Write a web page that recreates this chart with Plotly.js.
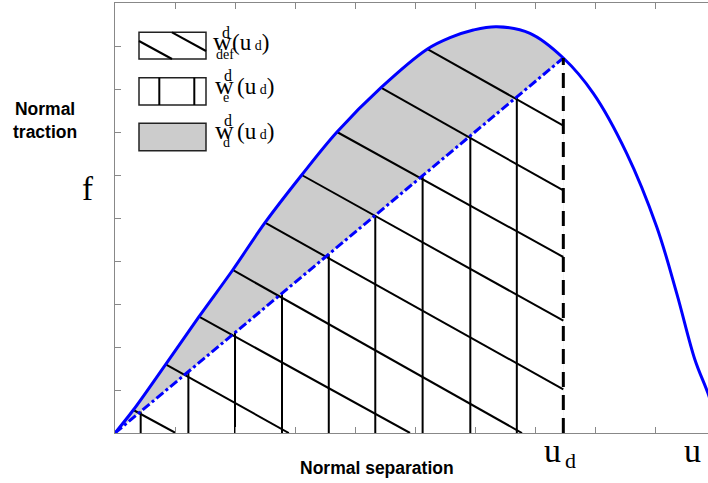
<!DOCTYPE html>
<html>
<head>
<meta charset="utf-8">
<script src="https://cdn.plot.ly/plotly-3.0.1.min.js"></script>
<style>
  body { margin: 0; background: #fff; }
  #chart { width: 708px; height: 483px; }
</style>
</head>
<body>
<div id="chart"></div>
<script>
// Traction-separation curve
const curveU = [0, 0.305, 0.845, 1.400, 1.962, 2.500, 3.112, 3.700, 4.433, 5.208, 5.583, 5.972, 6.362, 6.917, 7.472, 7.972, 8.528, 9.028, 9.362, 9.667, 9.883, 10.1];
const curveF = [0, 0.535, 1.598, 2.705, 3.791, 4.891, 6.000, 7.000, 8.030, 8.930, 9.193, 9.372, 9.449, 9.295, 8.721, 7.900, 6.505, 4.798, 3.249, 1.698, 0.923, 0];

// damage point
const ud = 7.472;
const fd = 8.721;

// vertical hatching (elastic energy)
const elasticU = [0.428, 1.223, 2.000, 2.783, 3.563, 4.338, 5.127, 5.922, 6.697];
const elasticTop = [0.500, 1.428, 2.335, 3.249, 4.158, 5.063, 5.984, 6.912, 7.816];

// diagonal hatching (deformation energy)
const diagU0 = [0.305, 0.845, 1.400, 1.962, 2.500, 3.112, 3.700, 4.433, 5.208];
const diagF0 = [0.535, 1.598, 2.705, 3.791, 4.891, 6.000, 7.000, 8.030, 8.930];
const diagU1 = [1.010, 2.897, 4.917, 6.783, 7.472, 7.472, 7.472, 7.472, 7.472];
const diagF1 = [0, 0, 0, 0, 1.016, 2.612, 4.093, 5.640, 7.151];

const legendSub = ['def', 'e', 'd'];

// plot area in pixels: x 115..708, y 3..433
const PX = p => (p - 115) / 593;
const PY = p => (433 - p) / 430;

function segments(x0, y0, x1, y1) {
  const x = [], y = [];
  for (let i = 0; i < x0.length; i++) {
    x.push(x0[i], x1[i], null);
    y.push(y0[i], y1[i], null);
  }
  return { x, y };
}

const vert = segments(elasticU, elasticU.map(() => 0), elasticU, elasticTop);
const diag = segments(diagU0, diagF0, diagU1, diagF1);

const traces = [
  { x: curveU, y: curveF, mode: 'lines', line: { width: 0, shape: 'spline' },
    fill: 'tozeroy', fillcolor: '#cccccc', hoverinfo: 'skip' },
  { x: [0, ud, ud, 0], y: [0, fd, 0, 0], mode: 'lines', line: { width: 0 },
    fill: 'toself', fillcolor: '#ffffff', hoverinfo: 'skip' },
  { x: [ud, ud, 11, 11, ud], y: [0, 10.5, 10.5, 0, 0], mode: 'lines', line: { width: 0 },
    fill: 'toself', fillcolor: '#ffffff', hoverinfo: 'skip' },
  { x: vert.x, y: vert.y, mode: 'lines', line: { color: '#000', width: 2 } },
  { x: diag.x, y: diag.y, mode: 'lines', line: { color: '#000', width: 2 } },
  { x: curveU, y: curveF, mode: 'lines', line: { color: '#0000ff', width: 3, shape: 'spline' } },
  { x: [0, ud], y: [0, fd], mode: 'lines', line: { color: '#0000ff', width: 3, dash: 'dashdot' } },
  { x: [ud, ud], y: [0, fd], mode: 'lines', line: { color: '#000', width: 3, dash: '15px,8px' } }
];

const serif = 'Liberation Serif, Times New Roman, serif';
const sans = 'Liberation Sans, Arial, sans-serif';

// y centre of a text box from its baseline
const mid = (base, size, asc) => PY(base - asc * size);

function label(text, xp, base, size, family, xanchor) {
  return {
    text: text, xref: 'paper', yref: 'paper', showarrow: false,
    x: PX(xp), y: mid(base, size, family === sans ? 0.3465 : 0.3375),
    xanchor: xanchor || 'center', yanchor: 'middle',
    font: { family: family, size: size, color: '#000' }
  };
}

const annotations = [
  Object.assign(label('<b>Normal<br>traction</b>', 45, 130, 17.5, sans), { y: PY(120) }),
  label('<b>Normal separation</b>', 377, 474, 17.5, sans),
  label('f', 87.5, 200, 33, serif),
  label('u', 552.5, 461.7, 34, serif),
  label('d', 570.8, 468.3, 22, serif),
  label('u', 692.5, 461.7, 34, serif)
];

const rowBase = [50.5, 94, 139];
const rowW = [210.5, 212.5, 212.5];
const rowSup = [220, 222, 222];
const rowSub = [213.5, 221, 221];
const rowParen = [230, 235, 235];
legendSub.forEach((s, i) => {
  annotations.push(label('w', rowW[i], rowBase[i], 26, serif, 'left'));
  annotations.push(label('d', rowSup[i], rowBase[i] - 13, 16, serif, 'left'));
  annotations.push(label(s, rowSub[i], rowBase[i] + 8.5, 14, serif, 'left'));
  annotations.push(label('(u<span style="font-size:14px"> d</span>)', rowParen[i], rowBase[i], 23, serif, 'left'));
});

// legend swatches
const boxes = [[139, 32.3, 206, 59], [139, 77.7, 206, 105], [139, 123.3, 206, 150.7]];
const shapes = boxes.map((b, i) => ({
  type: 'rect', xref: 'paper', yref: 'paper',
  x0: PX(b[0]), x1: PX(b[2]), y0: PY(b[3]), y1: PY(b[1]),
  fillcolor: i === 2 ? '#cccccc' : '#ffffff',
  line: { color: '#222', width: 1.5 }
}));
const swatchLines = [
  [139, 41, 172, 59], [172, 32.3, 206, 51],
  [159.3, 77.7, 159.3, 105], [194.3, 77.7, 194.3, 105]
];
swatchLines.forEach(l => shapes.push({
  type: 'line', xref: 'paper', yref: 'paper',
  x0: PX(l[0]), y0: PY(l[1]), x1: PX(l[2]), y1: PY(l[3]),
  line: { color: '#000', width: 2 }
}));

const axisStyle = {
  showgrid: false, zeroline: false, showline: true, linecolor: '#888', linewidth: 1,
  ticks: 'inside', ticklen: 6, tickcolor: '#888', tickwidth: 1,
  showticklabels: false, tick0: 0, dtick: 1, fixedrange: true
};

const layout = {
  width: 708, height: 483,
  margin: { l: 115, r: 0, t: 3, b: 50, pad: 0 },
  paper_bgcolor: '#fff', plot_bgcolor: '#fff',
  showlegend: false,
  xaxis: Object.assign({}, axisStyle, { range: [0, 593 / 60], mirror: 'ticks' }),
  yaxis: Object.assign({}, axisStyle, { range: [0, 10] }),
  annotations: annotations,
  shapes: shapes
};

Plotly.newPlot('chart', traces, layout, { displayModeBar: false, staticPlot: true });
</script>
</body>
</html>
